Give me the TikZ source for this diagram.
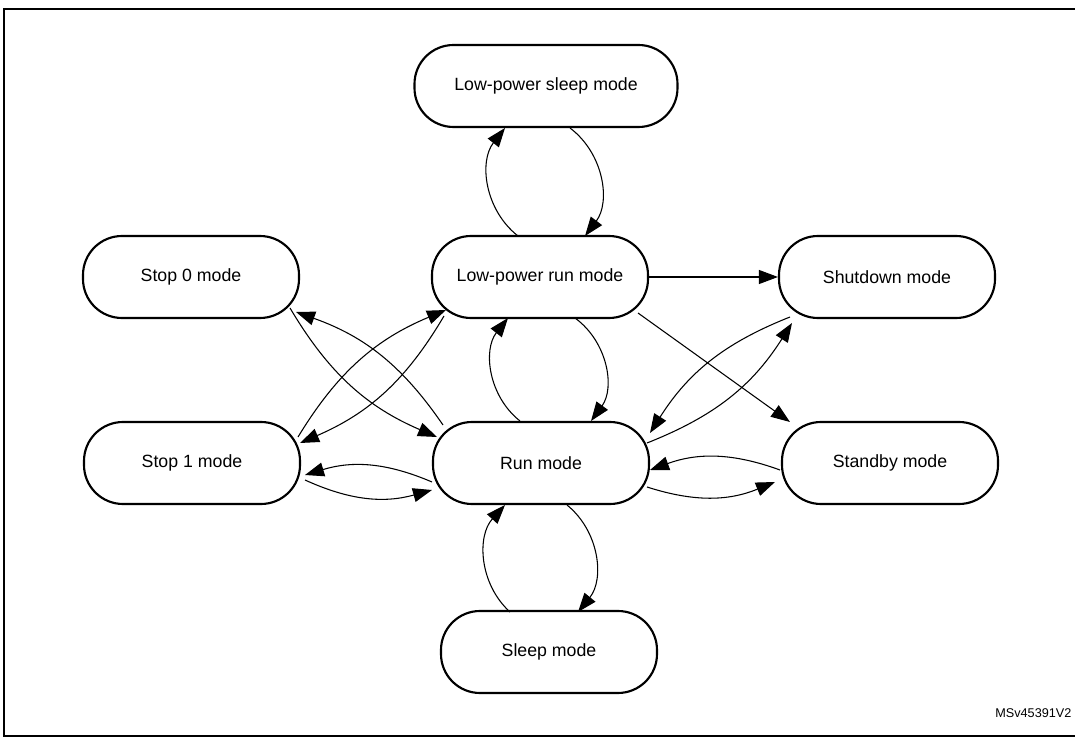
\documentclass[tikz,border=0pt]{standalone}
\usepackage{fontspec}
\setmainfont{Liberation Sans}
\usetikzlibrary{arrows.meta}
\begin{document}
\begin{tikzpicture}[x=0.75pt,y=-0.75pt,
  st/.style={draw,line width=1.6pt,rounded corners=39pt*0.75,minimum height=82*0.75pt,minimum width=216*0.75pt,font=\fontsize{13.3pt}{16pt}\selectfont,inner sep=1pt},
  ar/.style={line width=0.8pt,-{Triangle[length=19pt*0.75,width=14pt*0.75]}}]
\useasboundingbox (0,0) rectangle (1075,737);
\clip (0,0) rectangle (1075,737);
\draw[line width=1.2pt] (4,9) rectangle (1090,736);
\node[st,minimum width=263*0.75pt] (lps) at (546,86) {Low-power sleep mode};
\node[st] (s0) at (191,277) {Stop 0 mode};
\node[st] (lpr) at (540,277) {Low-power run mode};
\node[st] (sh) at (887,277) {Shutdown mode};
\node[st] (s1) at (192,463) {Stop 1 mode};
\node[st] (run) at (541,463) {Run mode};
\node[st] (sb) at (890,463) {Standby mode};
\node[st] (sl) at (549,652) {Sleep mode};
\node[anchor=east,font=\fontsize{9.5pt}{12pt}\selectfont,inner sep=1pt] (lab) at (1073,713) {MSv45391V2};
% vertical pairs
\draw[ar] ([shift={(-22,-41)}]lpr.center) to[bend left=45] ([shift={(-41,42)}]lps.center);
\draw[ar] ([shift={(24,42)}]lps.center) to[bend left=45] ([shift={(45,-41)}]lpr.center);
\draw[ar] ([shift={(35,41)}]lpr.center) to[bend left=45] ([shift={(50,-42)}]run.center);
\draw[ar] ([shift={(-21,-42)}]run.center) to[bend left=45] ([shift={(-32,41)}]lpr.center);
\draw[ar] ([shift={(26,42)}]run.center) to[bend left=45] ([shift={(29,-40)}]sl.center);
\draw[ar] ([shift={(-39,-40)}]sl.center) to[bend left=45] ([shift={(-36,42)}]run.center);
% straight
\draw[ar] (lpr.east) -- (sh.west);
\draw[ar] ([shift={(98,36)}]lpr.center) -- ([shift={(-100,-41)}]sb.center);
% left side
\draw[ar] ([shift={(99,31)}]s0.center) to[bend right=18] ([shift={(-104,-26)}]run.center);
\draw[ar] ([shift={(-98,-38)}]run.center) to[bend right=18] ([shift={(105,35)}]s0.center);
\draw[ar] ([shift={(106,-26)}]s1.center) to[bend left=18] ([shift={(-94,33)}]lpr.center);
\draw[ar] ([shift={(-96,39)}]lpr.center) to[bend left=18] ([shift={(108,-20)}]s1.center);
\draw[ar] ([shift={(-109,19)}]run.center) to[bend right=20] ([shift={(113,12)}]s1.center);
\draw[ar] ([shift={(113,17)}]s1.center) to[bend right=20] ([shift={(-109,27)}]run.center);
% right side
\draw[ar] ([shift={(-97,40)}]sh.center) to[bend right=18] ([shift={(109,-30)}]run.center);
\draw[ar] ([shift={(106,-20)}]run.center) to[bend right=18] ([shift={(-95,46)}]sh.center);
\draw[ar] ([shift={(-110,7)}]sb.center) to[bend right=20] ([shift={(109,7)}]run.center);
\draw[ar] ([shift={(106,24)}]run.center) to[bend right=20] ([shift={(-115,19)}]sb.center);
\end{tikzpicture}
\end{document}
